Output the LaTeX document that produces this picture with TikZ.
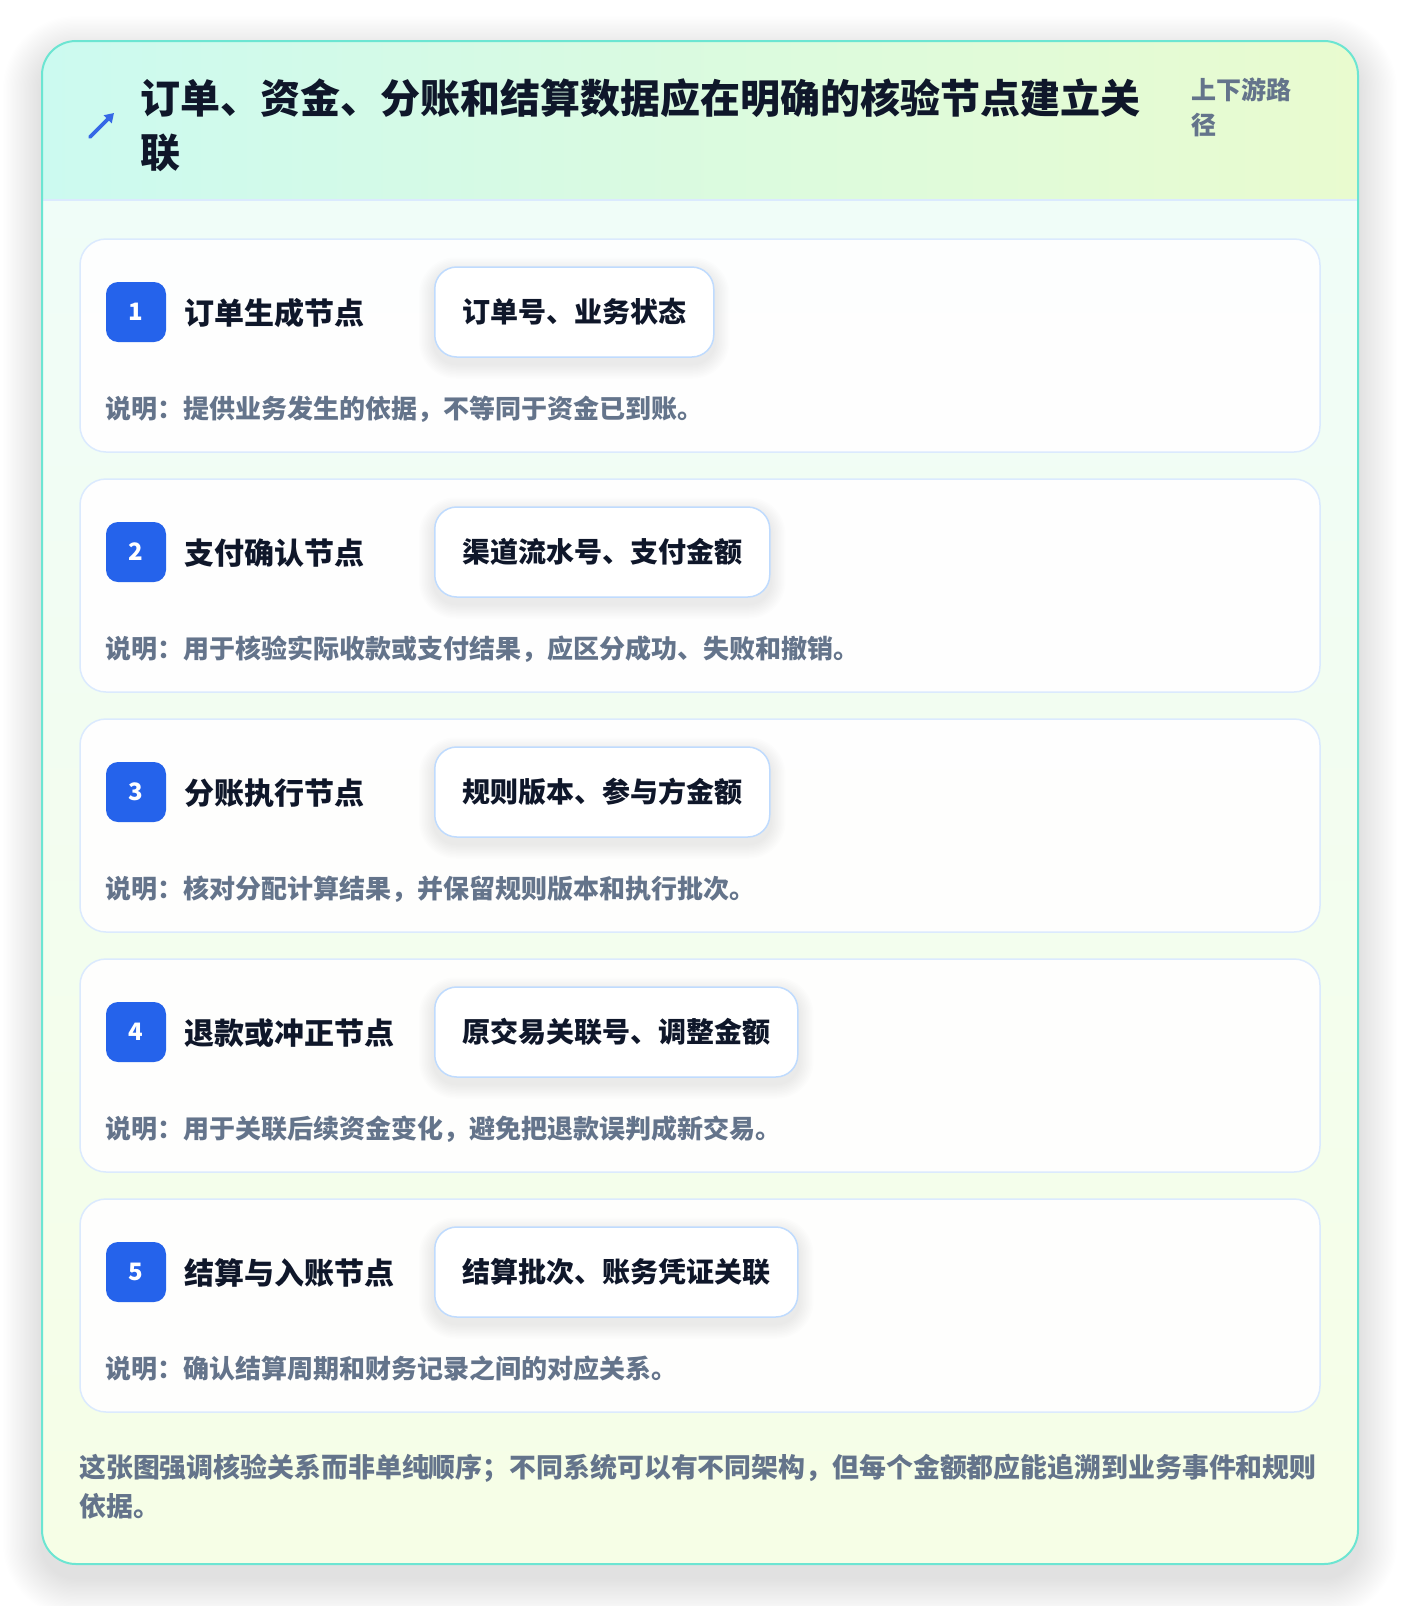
\documentclass[tikz,border=0pt]{standalone}
\usepackage{fontspec}
\setmainfont{Noto Sans CJK SC}
\usetikzlibrary{arrows.meta}
\pgfdeclarelayer{front}
\pgfsetlayers{main,front}
\definecolor{ink}{HTML}{0F172A}
\definecolor{muted}{HTML}{64748B}
\definecolor{accent}{HTML}{2563EB}
\definecolor{iconblue}{HTML}{3568E6}
\definecolor{cardline}{HTML}{6CE5D2}
\definecolor{hdrL}{HTML}{CCFAF0}
\definecolor{hdrR}{HTML}{E9FBCF}
\definecolor{bodyT}{HTML}{F0FDF8}
\definecolor{bodyB}{HTML}{F6FEE6}
\definecolor{stepline}{HTML}{DBEAFE}
\definecolor{tagline}{HTML}{BFDBFE}
\definecolor{shadowc}{HTML}{1E293B}
\tikzset{
  stepbox/.style={draw=stepline, line width=1.5pt, fill=white, fill opacity=0.93, rounded corners=26pt,
    minimum width=1240pt, minimum height=213pt, inner sep=0pt},
  badge/.style={fill=accent, rounded corners=12pt, minimum width=60pt, minimum height=60pt, inner sep=0pt,
    text=white, font=\fontsize{24}{28}\selectfont\bfseries},
  steptitle/.style={anchor=west, inner sep=0pt, text=ink, font=\fontsize{30}{34}\selectfont\bfseries},
  tagbox/.style={anchor=west, draw=tagline, line width=1.5pt, fill=white, rounded corners=22pt,
    minimum height=90pt, inner xsep=27.5pt, inner ysep=0pt, text=ink, font=\fontsize{28}{32}\selectfont\bfseries},
  desc/.style={anchor=west, inner sep=0pt, text=muted, font=\fontsize{26}{30}\selectfont\bfseries},
}
\begin{document}
\begin{tikzpicture}[x=1pt,y=-1pt]
\useasboundingbox (0,0) rectangle (1400,1606);
\fill[white] (0,0) rectangle (1400,1606);
% card shadow (layered)
\foreach \i [evaluate=\i as \d using 1.3*\i, evaluate=\i as \r using 34+1.3*\i] in {1,...,30}{
  \fill[shadowc, opacity=0.0035, rounded corners=\r pt] (42-\d,41-\d+14) rectangle (1358+\d,1564+\d+14);
}
% card backgrounds
\begin{scope}
  \clip[rounded corners=34pt] (42,41) rectangle (1358,1564);
  \shade[top color=bodyT, bottom color=bodyB] (42,200) rectangle (1358,1564);
  \shade[left color=hdrL, right color=hdrR] (42,41) rectangle (1358,200);
\end{scope}
\coordinate (sepL) at (42,200);
\coordinate (sepR) at (1358,200);
\draw[stepline, line width=2pt] (sepL) -- (sepR);
\draw[cardline, line width=2pt, rounded corners=34pt] (42,41) rectangle (1358,1564);
% header
\coordinate (iconTail) at (90,137);
\coordinate (iconTip) at (114,113);
\draw[iconblue, line width=3.6pt, line cap=round, -{Triangle[length=9pt,width=11pt]}] (iconTail) -- (iconTip);
\node[anchor=west, inner sep=0pt, align=left, text=ink, font=\fontsize{40}{54}\selectfont\bfseries] (title) at (140,125)
  {订单、资金、分账和结算数据应在明确的核验节点建立关\\联};
\node[anchor=west, inner sep=0pt, align=left, text=muted, font=\fontsize{25}{35}\selectfont\bfseries] (tagline) at (1191,107.5)
  {上下游路\\径};
% steps
\foreach \n/\ttl/\tg/\ds [evaluate=\n as \top using 239+240*(\n-1)] in {
  1/订单生成节点/订单号、业务状态/说明：提供业务发生的依据，不等同于资金已到账。,
  2/支付确认节点/渠道流水号、支付金额/说明：用于核验实际收款或支付结果，应区分成功、失败和撤销。,
  3/分账执行节点/规则版本、参与方金额/说明：核对分配计算结果，并保留规则版本和执行批次。,
  4/退款或冲正节点/原交易关联号、调整金额/说明：用于关联后续资金变化，避免把退款误判成新交易。,
  5/结算与入账节点/结算批次、账务凭证关联/说明：确认结算周期和财务记录之间的对应关系。}{
  \node[stepbox] (s\n) at (700,\top+106.5) {};
  \node[badge] (b\n) at (136,\top+73) {\n};
  \node[steptitle] (t\n) at (184,\top+74) {\ttl};
  \begin{pgfonlayer}{front}
    \node[tagbox] (g\n) at (434,\top+73) {\tg};
  \end{pgfonlayer}
  % soft shadow under the tag (main layer, beneath it)
  \foreach \i [evaluate=\i as \d using 1.5*\i, evaluate=\i as \r using 22+1.5*\i] in {1,...,10}{
    \fill[shadowc, opacity=0.006, rounded corners=\r pt]
      ([xshift=-\d pt, yshift=\d pt-6pt]g\n.north west) rectangle ([xshift=\d pt, yshift=-\d pt-6pt]g\n.south east);
  }
  \node[desc] (d\n) at (105,\top+170) {\ds};
}
% footer note
\node[anchor=west, inner sep=0pt, align=left, text=muted, font=\fontsize{26.9}{39.5}\selectfont\bfseries] (note) at (79,1486.5)
  {这张图强调核验关系而非单纯顺序；不同系统可以有不同架构，但每个金额都应能追溯到业务事件和规则\\依据。};
\end{tikzpicture}
\end{document}
